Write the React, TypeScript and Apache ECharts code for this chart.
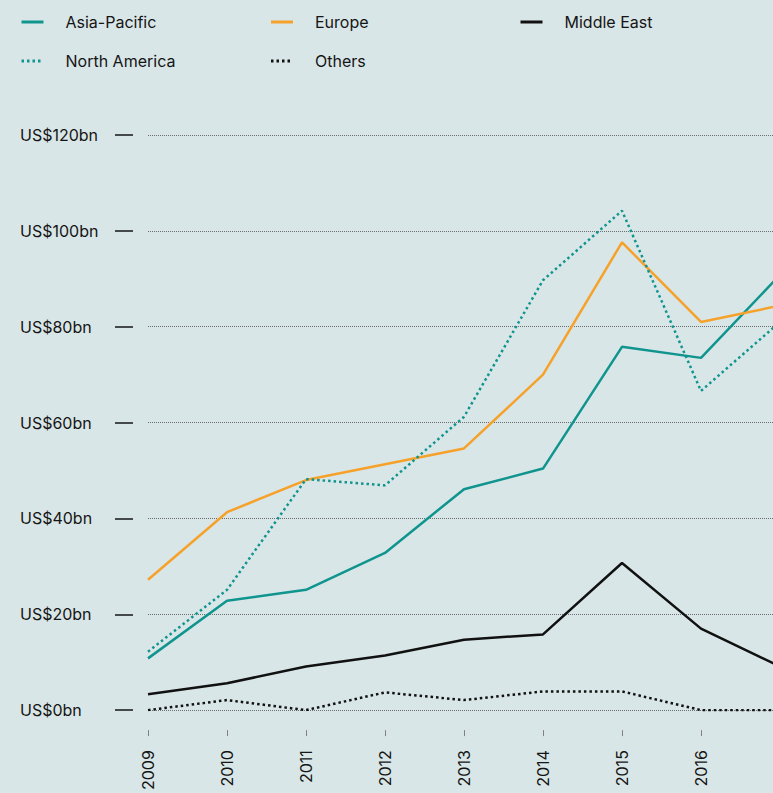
import React, { useEffect, useRef } from "react";
import * as echarts from "echarts";

const years = ["2009", "2010", "2011", "2012", "2013", "2014", "2015", "2016", "2017"];
const asiaPacific = [10.8, 22.8, 25.1, 32.8, 46.1, 50.4, 75.8, 73.5, 90.8];
const europe = [27.2, 41.3, 48.0, 51.3, 54.6, 70.0, 97.6, 81.0, 84.4];
const middleEast = [3.3, 5.6, 9.1, 11.4, 14.7, 15.8, 30.7, 17.0, 9.1];
const northAmerica = [12.2, 25.1, 48.2, 46.9, 61.2, 89.7, 104.2, 66.6, 81.0];
const others = [0, 2.1, 0, 3.7, 2.1, 3.9, 3.9, 0, 0];

const TEAL = "#0f948e";
const ORANGE = "#f6a12a";
const BLACK = "#111111";
const BG = "#d9e6e7";
const FONT = "Inter, 'Noto Sans', sans-serif";

export default function App() {
  const ref = useRef<HTMLDivElement>(null);
  useEffect(() => {
    if (!ref.current) return;
    const chart = echarts.init(ref.current, null, { renderer: "svg" });
    const line = (name: string, data: number[], color: string, dotted: boolean) => ({
      name,
      type: "line",
      data,
      symbol: "none",
      smooth: false,
      lineStyle: {
        color,
        width: 2.5,
        type: dotted ? [2.5, 3] : "solid",
        cap: "butt",
      },
      itemStyle: { color },
      emphasis: { disabled: true },
    });
    chart.setOption({
      animation: false,
      backgroundColor: BG,
      textStyle: { fontFamily: FONT },
      legend: {
        left: 20,
        top: 13,
        width: 740,
        padding: 0,
        itemWidth: 22,
        itemHeight: 18,
        itemGap: 21,
        itemStyle: { opacity: 0 },
        lineStyle: { width: 3 },
        data: ["Asia-Pacific", "Europe", "Middle East", "North America", "Others"],
        textStyle: {
          fontFamily: FONT,
          fontSize: 16,
          color: "#151515",
          width: 183,
          lineHeight: 18,
          padding: [0, 0, 0, 17],
        },
      },
      grid: { left: 148, right: 120, top: 135, bottom: 80, containLabel: false },
      xAxis: {
        type: "category",
        data: years,
        boundaryGap: false,
        offset: 20,
        axisLine: { show: false, onZero: false },
        axisTick: { show: true, length: 6, lineStyle: { color: "#808080", width: 1 } },
        axisLabel: {
          rotate: 90,
          margin: 20,
          fontFamily: FONT,
          fontSize: 16,
          color: "#151515",
          interval: 0,
        },
        splitLine: { show: false },
      },
      yAxis: {
        type: "value",
        min: 0,
        max: 120,
        interval: 20,
        offset: 15,
        axisLine: { show: false },
        axisTick: { show: true, length: 18, lineStyle: { color: "#151515", width: 1.5 } },
        axisLabel: {
          margin: 113,
          align: "left",
          fontFamily: FONT,
          fontSize: 16,
          color: "#151515",
          formatter: (v: number) => `US$${v}bn`,
        },
        splitLine: { show: true, lineStyle: { color: "#6b6f70", width: 1, type: [1, 1] } },
      },
      series: [
        line("Asia-Pacific", asiaPacific, TEAL, false),
        line("Europe", europe, ORANGE, false),
        line("Middle East", middleEast, BLACK, false),
        line("North America", northAmerica, TEAL, true),
        line("Others", others, BLACK, true),
      ],
    });
    return () => chart.dispose();
  }, []);
  return (
    <div
      style={{
        position: "fixed",
        left: 0,
        top: 0,
        width: 773,
        height: 793,
        overflow: "hidden",
        background: BG,
      }}
    >
      <div ref={ref} style={{ width: 900, height: 793 }} />
    </div>
  );
}
